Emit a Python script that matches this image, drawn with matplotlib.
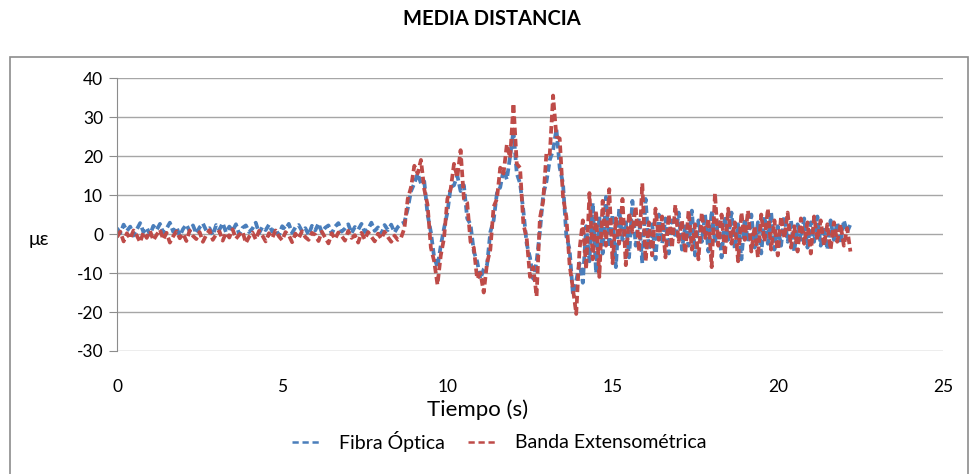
import numpy as np
import matplotlib
matplotlib.use("Agg")
import matplotlib.pyplot as plt
from matplotlib.patches import Rectangle

plt.rcParams['font.family'] = ['Lato', 'DejaVu Sans']
plt.rcParams['axes.unicode_minus'] = False

# Muestreo cada 0.1 s, de 0 a 22.2 s
DT = 0.1

# Fibra Óptica (azul)
fibra_reposo = [
    1.5, 0.2, 2.4, 0.8, 1.9, -0.4, 1.2, 2.8, 0.5, 1.6,
    -0.2, 2.1, 1.0, 2.6, 0.3, 1.4, 2.9, 0.6, 1.8, -0.5,
    1.3, 2.4, 0.7, 2.2, 0.1, 1.7, 2.7, 0.9, 1.5, -0.3,
    2.3, 1.1, 2.8, 0.4, 1.9, 0.8, 2.5, -0.1, 1.6, 2.2,
    0.5, 1.4, 2.9, 0.2, 1.8, 1.0, 2.4, 0.6, 1.3, -0.4,
    2.0, 1.2, 2.6, 0.3, 1.7, 2.3, 0.7, 1.5, -0.2, 2.1,
    0.9, 2.7, 0.4, 1.6, 2.2, 0.1, 1.9, 2.8, 0.6, 1.4,
    2.5, 0.2, 1.8, 1.1, 2.6, 0.5, 1.3, 2.9, 0.8, 1.7,
    0.0, 2.3, 1.0, 2.4, 0.4, 1.8, 2.6,
]
fibra_oscil = [
    3.0, 6.5, 11.0, 13.0, 15.5, 13.0, 13.5, 5.0, 0.5, -6.0,
    -8.5, -3.0, 1.5, 5.5, 12.0, 12.5, 15.0, 11.0, 12.5, 4.0,
    2.5, -4.5, -7.0, -11.5, -9.0, -8.0, 0.5, 3.5, 10.5, 12.0,
    16.5, 14.0, 20.0, 26.5, 15.5, 13.0, 6.0, -2.5, -6.0, -11.5,
    -7.0, 0.5, 10.0, 13.5, 19.0, 21.5, 27.0, 17.0, 13.0, -0.5,
    -4.0, -15.5, -12.0, -7.5,
]
fibra_cola = [
    -12.5, 2.0, -7.0, 8.0, -10.0, 4.5, -5.0, 9.5, -3.5, 5.0,
    -8.5, 6.5, -1.5, 3.0, -6.0, 8.5, -3.0, 4.0, -7.5, 9.0,
    -4.0, 2.5, -6.5, 5.0, -2.5, 4.0, -5.0, 3.5, -1.0, 5.5,
    -4.0, 2.0, -3.0, 6.0, -5.5, 3.5, -2.0, 5.0, -4.5, 6.0,
    -2.5, 3.5, -6.0, 4.5, -1.5, 5.5, -4.0, 2.5, -6.5, 4.0,
    -2.0, 5.0, -3.5, 3.0, -5.0, 4.5, -2.5, 5.5, -4.0, 2.0,
    -3.0, 4.5, -2.0, 3.5, -4.5, 2.5, -1.5, 4.0, -3.5, 3.0,
    -2.0, 4.5, -3.0, 2.0, -4.0, 3.5, -1.5, 3.0, -2.5, 3.5,
    0.5, 2.5,
]

# Banda Extensométrica (roja)
banda_reposo = [
    -0.8, 0.6, -1.9, 0.2, -1.2, 0.9, -0.4, -2.1, 0.4, -1.0,
    0.8, -1.6, -0.2, 1.1, -1.4, 0.3, -2.2, -0.6, 0.7, -1.1,
    0.1, -1.8, 0.9, -0.5, -1.3, 0.5, -2.0, -0.3, 1.0, -1.5,
    -0.1, 0.7, -1.7, 0.3, -0.9, 1.2, -1.2, -0.2, 0.6, -2.3,
    -0.7, 0.4, -1.4, 0.8, -0.4, -1.9, 0.2, -1.0, 0.9, -0.6,
    -1.6, 0.5, -0.3, -2.1, 0.1, -1.1, 0.7, -0.8, -1.5, 0.3,
    -0.2, -1.8, 0.6, -0.9, -2.4, 0.2, -1.3, 0.4, -0.5, -1.7,
    0.8, -1.0, -0.3, -2.2, 0.3, -1.4, 0.5, -0.7, -1.9, 0.1,
    -1.2, 0.6, -0.8, -2.0, -0.4, -1.5, -0.9,
]
banda_oscil = [
    1.5, 9.0, 12.0, 17.5, 15.5, 19.0, 11.5, 7.5, -3.5, -7.0,
    -13.0, -5.5, -1.0, 9.0, 11.5, 18.0, 14.5, 21.5, 9.0, 8.0,
    -2.0, -3.5, -11.5, -10.0, -15.0, -7.5, -4.0, 7.0, 9.0, 17.0,
    15.5, 23.0, 19.5, 33.5, 18.0, 17.0, 2.5, -1.0, -11.0, -8.5,
    -16.0, 4.0, 8.5, 21.0, 20.5, 35.5, 25.0, 24.5, 9.5, 4.5,
    -8.0, -14.0, -20.5, -4.0,
]
banda_cola = [
    3.5, -9.0, 10.5, -6.5, 6.0, -11.0, 8.5, -3.0, 11.5, -7.5,
    4.0, -2.5, 9.0, -8.0, 5.5, 0.5, 7.0, -4.5, 13.0, -7.0,
    3.0, -5.5, 6.5, -1.5, 4.5, -6.0, 5.0, -3.5, 7.5, -2.0,
    3.5, -5.0, 6.0, -4.0, 2.5, -6.5, 5.5, -1.0, 4.0, -8.5,
    10.5, -3.0, 5.0, -5.5, 6.5, -2.5, 3.0, -7.0, 5.5, -1.5,
    6.0, -4.5, 2.0, -6.0, 5.0, -2.0, 6.5, -4.0, 3.5, -5.5,
    4.5, -1.0, 5.5, -3.5, 2.0, -4.5, 4.0, -2.5, 3.0, -5.0,
    4.5, -1.5, 3.5, -3.0, 2.5, -4.0, 3.0, -2.0, 2.5, -3.0,
    1.5, -4.5,
]

fibra = np.array(fibra_reposo + fibra_oscil + fibra_cola)
banda = np.array(banda_reposo + banda_oscil + banda_cola)
tiempo = np.arange(len(fibra)) * DT

AZUL = "#4a7ebb"
ROJO = "#be4b48"
GUION = (0, (2.0, 1.0))

fig = plt.figure(figsize=(9.71, 4.74), dpi=100)
ax = fig.add_axes([0.1205, 0.2595, 0.8506, 0.5759])

ax.plot(tiempo, fibra, color=AZUL, lw=2.7, ls=GUION, label="Fibra Óptica")
ax.plot(tiempo, banda, color=ROJO, lw=2.7, ls=GUION, label="Banda Extensométrica")

ax.set_xlim(0, 25)
ax.set_ylim(-30, 40)
ax.set_xticks(range(0, 26, 5))
ax.set_yticks(range(-30, 41, 10))
ax.yaxis.grid(True, color="#a6a6a6", lw=1)
ax.set_axisbelow(True)
for s in ("top", "right", "bottom"):
    ax.spines[s].set_visible(False)
ax.spines["left"].set_color("#8c8c8c")
ax.tick_params(axis="y", length=6, color="#8c8c8c", labelsize=12.5, pad=4)
ax.tick_params(axis="x", length=0, labelsize=12.5, pad=20)

ax.set_ylabel("με", rotation=0, fontsize=14, va="center", ha="center")
ax.yaxis.set_label_coords(-0.095, 0.41)

fig.text(478 / 971, 1 - 410 / 474, "Tiempo (s)", ha="center", va="center", fontsize=16)
fig.text(492 / 971, 1 - 19 / 474, "MEDIA DISTANCIA", ha="center", va="center",
         fontsize=14.5, fontweight="bold")

leg = fig.legend(loc="center", bbox_to_anchor=(499 / 971, 1 - 441 / 474), ncol=2,
                 frameon=False, fontsize=14, handlelength=1.4, handletextpad=1.0,
                 columnspacing=1.2)
for h in leg.get_lines():
    h.set_linewidth(1.8)
    h.set_linestyle((0, (2.5, 1.5)))

# marco del gráfico
fig.patches.append(Rectangle((10 / 971, -0.02), 958 / 971, 1.02 - 57 / 474,
                             transform=fig.transFigure, fill=False,
                             edgecolor="#8c8c8c", lw=1.2))

fig.savefig("out.png", dpi=100)
